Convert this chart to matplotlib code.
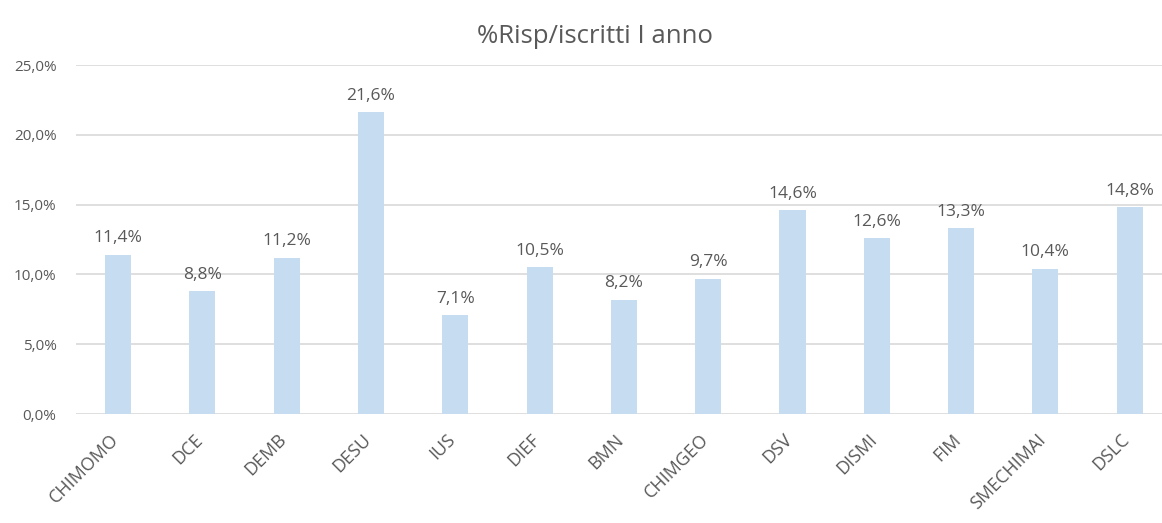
import numpy as np
import matplotlib.pyplot as plt
from matplotlib.transforms import ScaledTranslation

# -- dati ----------------------
categorie = ['CHIMOMO', 'DCE', 'DEMB', 'DESU', 'IUS', 'DIEF', 'BMN',
             'CHIMGEO', 'DSV', 'DISMI', 'FIM', 'SMECHIMAI', 'DSLC']
valori = [11.4, 8.8, 11.2, 21.6, 7.1, 10.5, 8.2, 9.7, 14.6, 12.6, 13.3, 10.4, 14.8]
yticks = [0, 5, 10, 15, 20, 25]

plt.rcParams['font.family'] = ['Open Sans', 'DejaVu Sans']
grigio = '#595959'

fig = plt.figure(figsize=(11.62, 5.23), dpi=100)
ax = fig.add_axes([0.0654, 0.2084, 0.943, 0.6673])

x = np.arange(len(categorie))
ax.bar(x, valori, width=0.31, color='#c6dcf0', zorder=2)

for xi, v in zip(x, valori):
    ax.text(xi, v + 0.6, f'{v:.1f}%'.replace('.', ','), ha='center', va='bottom',
            fontsize=12.5, color=grigio)

ax.set_ylim(0, 25)
ax.set_xlim(-0.5, 12.5)
ax.set_yticks(yticks)
ax.set_yticklabels([f'{t:.1f}%'.replace('.', ',') for t in yticks], fontsize=11, color=grigio)
ax.set_xticks(x)
ax.set_xticklabels(categorie, rotation=45, ha='right', rotation_mode='anchor',
                   fontsize=13, color=grigio)
ax.tick_params(axis='x', length=0, pad=12)
ax.tick_params(axis='y', length=0, pad=14)
# sposta le etichette un po' a sinistra
sposta = ScaledTranslation(-9 / 100, 0, fig.dpi_scale_trans)
for lab in ax.get_xticklabels():
    lab.set_transform(lab.get_transform() + sposta)
ax.grid(axis='y', color='#d9d9d9', linewidth=1.2, zorder=0)
for s in ax.spines.values():
    s.set_visible(False)

fig.text(0.512, 0.93, '%Risp/iscritti I anno', ha='center', va='center',
         fontsize=18.5, color=grigio)

fig.savefig('out.png', dpi=100)
